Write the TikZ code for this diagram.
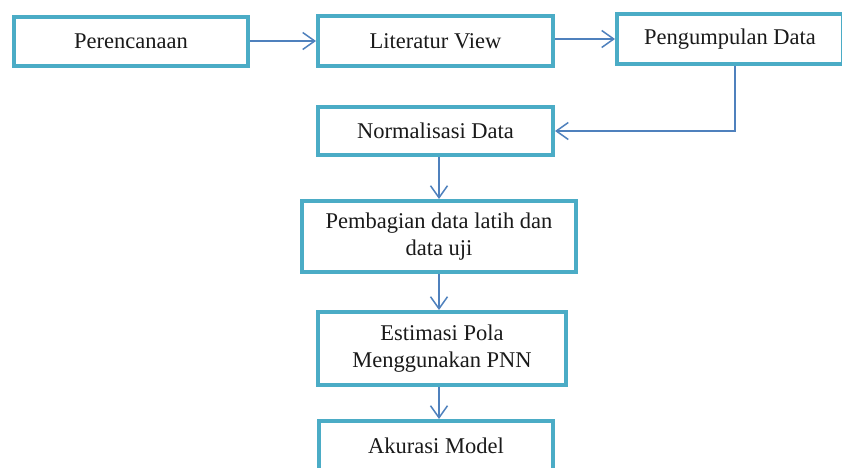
\documentclass[tikz,border=0pt]{standalone}
\usepackage{fontspec}
\setmainfont{Liberation Serif}
\usetikzlibrary{arrows.meta}
\definecolor{boxline}{HTML}{4BACC6}
\definecolor{arrowline}{HTML}{4F81BD}
\definecolor{txt}{HTML}{1A1A1A}
\tikzset{
  stepbox/.style={draw=boxline, line width=4pt, fill=white, inner sep=0pt,
    align=center, text=txt, font=\fontsize{22.5}{27}\selectfont},
  flow/.style={draw=arrowline, line width=1.5pt,
    -{Straight Barb[length=12pt,width=17pt,line width=1.5pt]}}
}
\begin{document}
\begin{tikzpicture}[x=1pt,y=-1pt]
\useasboundingbox (0,0) rectangle (842,467);
\clip (0,0) rectangle (842,467);
\fill[white] (0,0) rectangle (842,467);
\node[stepbox, minimum width=234pt, minimum height=49pt] (b1) at (131,41) {Perencanaan};
\node[stepbox, minimum width=235pt, minimum height=50pt] (b2) at (435.5,41) {Literatur View};
\node[stepbox, minimum width=226pt, minimum height=50pt] (b3) at (730,39) {Pengumpulan Data};
\node[stepbox, minimum width=235pt, minimum height=48pt] (b4) at (435.5,131) {Normalisasi Data};
\node[stepbox, minimum width=274pt, minimum height=71pt] (b5) at (439,236.5) {Pembagian data latih dan\\data uji};
\node[stepbox, minimum width=248pt, minimum height=73pt] (b6) at (442,348.5) {Estimasi Pola\\Menggunakan PNN};
\node[stepbox, minimum width=234pt, minimum height=49pt] (b7) at (436,445.5) {Akurasi Model};
\coordinate (c) at (735,0);
\draw[flow] (b1.east) -- (b2.west);
\draw[flow] (b2.east |- b3.west) -- (b3.west);
\draw[flow] (b3.south -| c) |- (b4.east);
\draw[flow] (b4.south -| b5.north) -- (b5.north);
\draw[flow] (b5.south) -- (b6.north -| b5.south);
\draw[flow] (b6.south -| b5.south) -- (b7.north -| b5.south);
\end{tikzpicture}
\end{document}
